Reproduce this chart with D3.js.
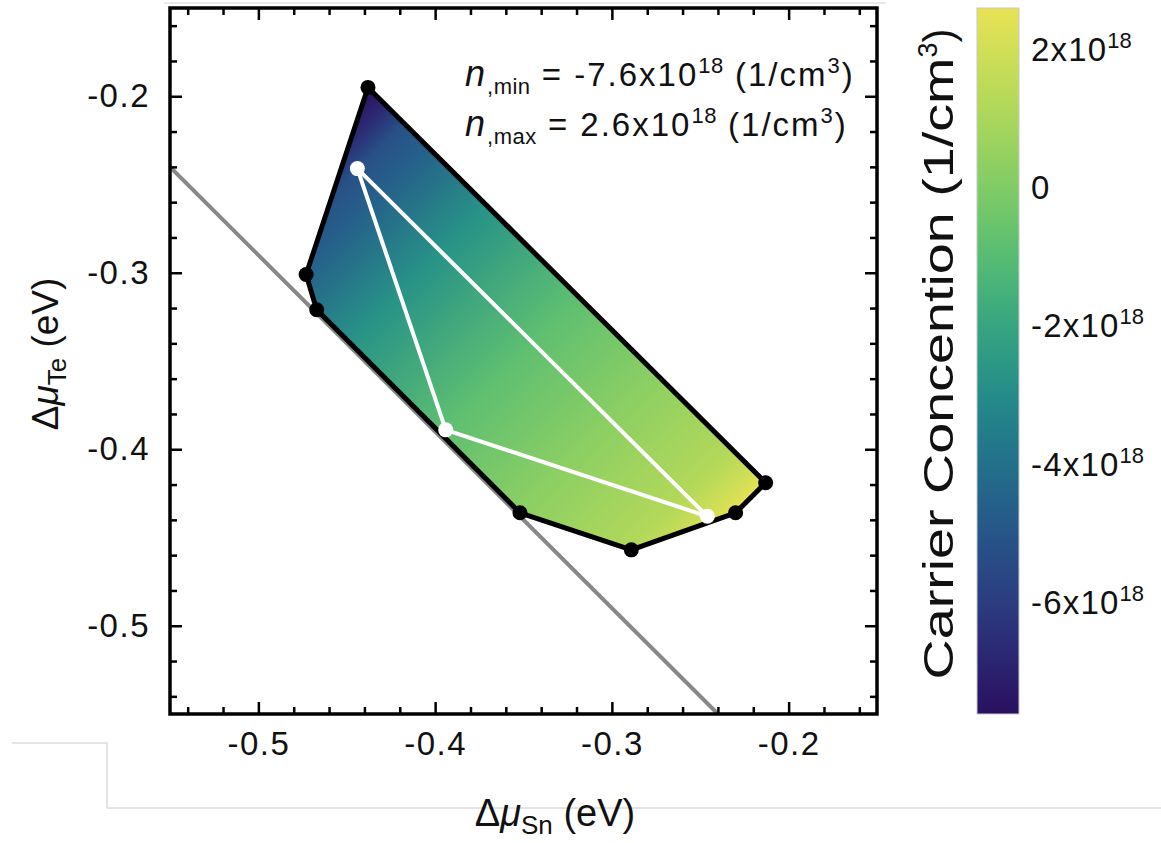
<!DOCTYPE html>
<html>
<head>
<meta charset="utf-8">
<script src="https://cdn.jsdelivr.net/npm/d3@7"></script>
<style>
  body { margin: 0; background: #fff; }
  text { font-family: "Liberation Sans", Arial, sans-serif; fill: #111; }
</style>
</head>
<body>
<div id="chart"></div>
<script>
// ---- data ----
const nMin = -7.6;   // 1e18 1/cm3
const nMax = 2.6;

// stability region (black vertices), in eV
const regionSn = [-0.438, -0.213, -0.230, -0.289, -0.352, -0.467, -0.473];
const regionTe = [-0.195, -0.419, -0.436, -0.457, -0.436, -0.321, -0.301];

// white triangle
const triSn = [-0.444, -0.394, -0.246];
const triTe = [-0.241, -0.389, -0.438];

// grey boundary line
const lineSn = [-0.55, -0.24];
const lineTe = [-0.24, -0.55];

// concentration along the shading direction (offset 0..1, value in 1e18)
const shadeOffsets = [0, 0.04, 0.09, 0.155, 0.3, 0.53, 0.73, 0.91, 0.97, 1];
const shadeValues = [-7.6, -6.8, -5.2, -4.5, -2.7, -0.8, 0.3, 1.2, 2.0, 2.6];

const xTicks = [-0.5, -0.4, -0.3, -0.2];
const yTicks = [-0.5, -0.4, -0.3, -0.2];
const cbTicks = [2, 0, -2, -4, -6];

const width = 1161, height = 843;
const plot = { left: 170, right: 877, top: 8, bottom: 714 };

// palette as it appears on the colour bar (viridis-like, bluer at the bottom)
const palette = ["#2a1060", "#2e3f86", "#21698c", "#229a89", "#5cc270", "#a8d75a", "#e8e254"];
const interp = d3.interpolateRgbBasis(palette);

const xScale = d3.scaleLinear().domain([-0.55, -0.15]).range([plot.left, plot.right]);
const yScale = d3.scaleLinear().domain([-0.55, -0.15]).range([plot.bottom, plot.top]);
const color = d3.scaleSequential(interp).domain([nMin, nMax]);

const svg = d3.select("#chart").append("svg").attr("width", width).attr("height", height);
svg.append("rect").attr("width", width).attr("height", height).attr("fill", "#fff");

// faint crop lines that are part of the picture
svg.append("path")
    .attr("d", "M12,743H107V808H1161")
    .attr("fill", "none").attr("stroke", "#dcdcdc").attr("stroke-width", 1.5);
svg.append("path")
    .attr("d", "M164,3H886")
    .attr("fill", "none").attr("stroke", "#e2e2e2").attr("stroke-width", 1.5);

const defs = svg.append("defs");
defs.append("clipPath").attr("id", "plotClip")
    .append("rect")
    .attr("x", plot.left).attr("y", plot.top)
    .attr("width", plot.right - plot.left).attr("height", plot.bottom - plot.top);

// grey line
svg.append("line")
    .attr("clip-path", "url(#plotClip)")
    .attr("x1", xScale(lineSn[0])).attr("y1", yScale(lineTe[0]))
    .attr("x2", xScale(lineSn[1])).attr("y2", yScale(lineTe[1]))
    .attr("stroke", "#888").attr("stroke-width", 4);

// shading gradient inside region
const region = regionSn.map((d, i) => [xScale(d), yScale(regionTe[i])]);
const p0 = region[0], p1 = region[1];
const proj = ((p1[0] - p0[0]) + (p1[1] - p0[1])) / 2;
const shade = defs.append("linearGradient").attr("id", "shade")
    .attr("gradientUnits", "userSpaceOnUse")
    .attr("x1", p0[0]).attr("y1", p0[1])
    .attr("x2", p0[0] + proj).attr("y2", p0[1] + proj);
shade.selectAll("stop")
    .data(shadeOffsets)
    .join("stop")
    .attr("offset", d => d)
    .attr("stop-color", (d, i) => color(shadeValues[i]));

svg.append("path")
    .attr("d", d3.line()(region) + "Z")
    .attr("fill", "url(#shade)")
    .attr("stroke", "#000")
    .attr("stroke-width", 5)
    .attr("stroke-linejoin", "round");

// white triangle
const tri = triSn.map((d, i) => [xScale(d), yScale(triTe[i])]);
svg.append("path")
    .attr("d", d3.line()(tri) + "Z")
    .attr("fill", "none")
    .attr("stroke", "#fff")
    .attr("stroke-width", 4)
    .attr("stroke-linejoin", "round");

svg.selectAll("circle.vert")
    .data(region)
    .join("circle")
    .attr("class", "vert")
    .attr("cx", d => d[0]).attr("cy", d => d[1])
    .attr("r", 7.5).attr("fill", "#000");

svg.selectAll("circle.tri")
    .data(tri)
    .join("circle")
    .attr("class", "tri")
    .attr("cx", d => d[0]).attr("cy", d => d[1])
    .attr("r", 7.5).attr("fill", "#fff");

// axes, ticks pointing inward on all four sides
const minorTicks = d3.range(-54, -15, 2).map(d => d / 100).filter(d => Math.abs(Math.round(d * 10) - d * 10) > 1e-6);
const fmt = d => d.toFixed(1);

function addAxis(axis, tx, ty) {
    const g = svg.append("g").attr("transform", `translate(${tx},${ty})`).call(axis);
    g.select(".domain").remove();
    g.selectAll(".tick line").attr("stroke", "#000").attr("stroke-width", 2.5);
    g.selectAll("text").attr("font-size", 33).attr("letter-spacing", 1.5).attr("fill", "#111")
        .attr("font-family", "Liberation Sans, Arial, sans-serif");
    return g;
}

addAxis(d3.axisBottom(xScale).tickValues(xTicks).tickSize(-12).tickPadding(18).tickFormat(fmt), 0, plot.bottom);
addAxis(d3.axisBottom(xScale).tickValues(minorTicks).tickSize(-7).tickFormat(""), 0, plot.bottom);
addAxis(d3.axisTop(xScale).tickValues(xTicks).tickSize(-12).tickFormat(""), 0, plot.top);
addAxis(d3.axisTop(xScale).tickValues(minorTicks).tickSize(-7).tickFormat(""), 0, plot.top);
addAxis(d3.axisLeft(yScale).tickValues(yTicks).tickSize(-12).tickPadding(20).tickFormat(fmt), plot.left, 0);
addAxis(d3.axisLeft(yScale).tickValues(minorTicks).tickSize(-7).tickFormat(""), plot.left, 0);
addAxis(d3.axisRight(yScale).tickValues(yTicks).tickSize(-12).tickFormat(""), plot.right, 0);
addAxis(d3.axisRight(yScale).tickValues(minorTicks).tickSize(-7).tickFormat(""), plot.right, 0);

svg.append("rect")
    .attr("x", plot.left).attr("y", plot.top)
    .attr("width", plot.right - plot.left).attr("height", plot.bottom - plot.top)
    .attr("fill", "none").attr("stroke", "#000").attr("stroke-width", 3.5);

// axis titles
const xLab = svg.append("text")
    .attr("x", 555).attr("y", 826)
    .attr("text-anchor", "middle")
    .attr("font-size", 38);
xLab.append("tspan").text("Δ");
xLab.append("tspan").attr("font-style", "italic").text("μ");
xLab.append("tspan").attr("font-size", 26).attr("dy", 8).text("Sn");
xLab.append("tspan").attr("dy", -8).text(" (eV)");

const yLab = svg.append("text")
    .attr("transform", "translate(58,354) rotate(-90)")
    .attr("text-anchor", "middle")
    .attr("font-size", 37);
yLab.append("tspan").text("Δ");
yLab.append("tspan").attr("font-style", "italic").text("μ");
yLab.append("tspan").attr("font-size", 26).attr("dy", 8).text("Te");
yLab.append("tspan").attr("dy", -8).text(" (eV)");

// n min / n max annotation
function noteLine(sub, val, yPos) {
    const t = svg.append("text").attr("x", 465).attr("y", yPos)
        .attr("font-size", 33).attr("letter-spacing", 2);
    t.append("tspan").attr("font-style", "italic").attr("font-size", 36).text("n");
    t.append("tspan").attr("font-size", 22).attr("dy", 8).attr("letter-spacing", 0.5).text("," + sub);
    t.append("tspan").attr("dy", -8).text(" = " + val.toFixed(1) + "x10");
    t.append("tspan").attr("font-size", 22).attr("dy", -13).attr("letter-spacing", 0.5).text("18");
    t.append("tspan").attr("dy", 13).text(" (1/cm");
    t.append("tspan").attr("font-size", 22).attr("dy", -13).text("3");
    t.append("tspan").attr("dy", 13).text(")");
}
noteLine("min", nMin, 86);
noteLine("max", nMax, 136);

// colour bar
const cb = { x: 977, w: 42, top: 8, bottom: 714 };
const cbScale = d3.scaleLinear().domain([nMin, nMax]).range([cb.bottom, cb.top]);
const cbGrad = defs.append("linearGradient").attr("id", "cbGrad")
    .attr("x1", 0).attr("y1", 1).attr("x2", 0).attr("y2", 0);
cbGrad.selectAll("stop")
    .data(d3.range(0, 1.0001, 0.05))
    .join("stop")
    .attr("offset", d => d)
    .attr("stop-color", d => interp(d));

svg.append("rect")
    .attr("x", cb.x).attr("y", cb.top)
    .attr("width", cb.w).attr("height", cb.bottom - cb.top)
    .attr("fill", "url(#cbGrad)")
    .attr("stroke", "#c8c8c8").attr("stroke-width", 1);

const cbLabels = svg.selectAll("text.cbTick")
    .data(cbTicks)
    .join("text")
    .attr("class", "cbTick")
    .attr("x", cb.x + cb.w + 12)
    .attr("y", d => cbScale(d) + 11)
    .attr("font-size", 33)
    .attr("letter-spacing", 1.2);
cbLabels.append("tspan").text(d => d === 0 ? "0" : d + "x10");
cbLabels.filter(d => d !== 0).append("tspan")
    .attr("font-size", 22).attr("dy", -13).attr("letter-spacing", 0).text("18");

const cbTitle = svg.append("text")
    .attr("transform", `translate(953,354) rotate(-90)`)
    .attr("text-anchor", "middle")
    .attr("font-size", 42);
cbTitle.append("tspan").attr("textLength", 622).attr("lengthAdjust", "spacingAndGlyphs").text("Carrier Concention (1/cm");
cbTitle.append("tspan").attr("font-size", 27).attr("dy", -16).text("3");
cbTitle.append("tspan").attr("dy", 16).text(")");
</script>
</body>
</html>
